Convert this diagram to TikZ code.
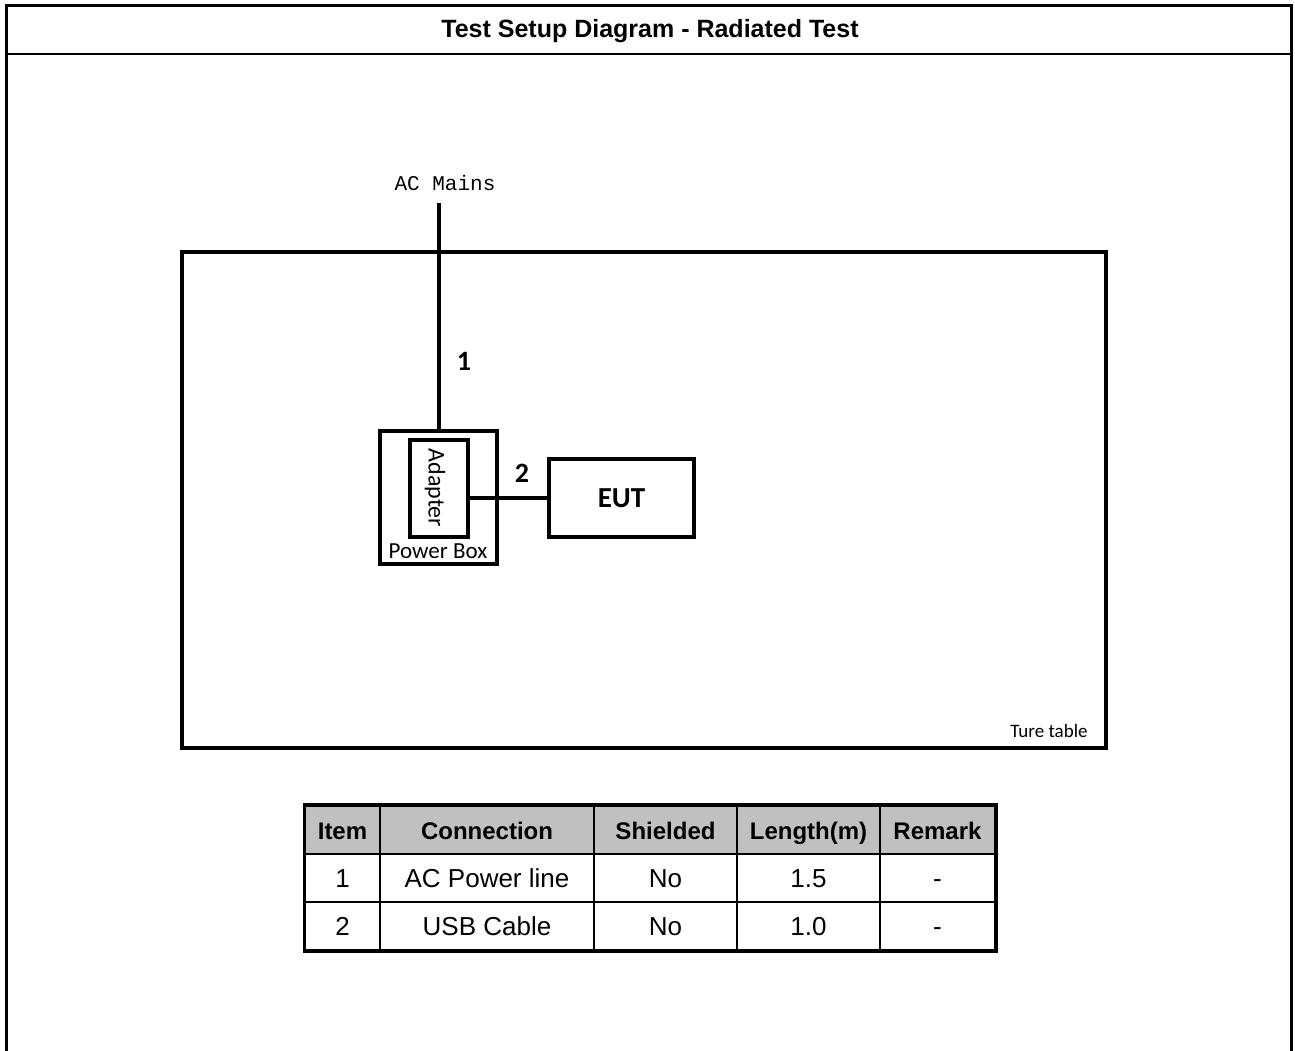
\documentclass[tikz,border=0pt]{standalone}
\usepackage{fontspec}
\setmainfont{Liberation Sans}
\newfontfamily\carfont{Carlito}
\newfontfamily\acmono{Liberation Mono}
\usetikzlibrary{positioning}
\definecolor{HdrGray}{HTML}{C0C0C0}
\tikzset{frame/.style={line width=1.5pt},unit/.style={draw,line width=2pt,inner sep=0pt},cable/.style={line width=2pt},hdr/.style={draw,line width=1pt,fill=HdrGray,minimum height=24.15pt,inner sep=0pt,text height=1.1em,text depth=.14em,font=\fontsize{12}{14}\selectfont\bfseries},cell/.style={draw,line width=1pt,minimum height=24.15pt,inner sep=0pt,text height=1.1em,text depth=.14em,font=\fontsize{13}{15}\selectfont},tag/.style={font=\carfont\fontsize{14}{16}\selectfont\bfseries}}
\begin{document}
\begin{tikzpicture}[x=0.5pt,y=-0.5pt]
      \useasboundingbox (0,0) rectangle (1295,1050);
      % outer frame, open at the bottom
      \draw[frame](6.5,1052)--(6.5,5.5)--(1291.5,5.5)--(1291.5,1052);
      \draw[line width=1pt](6.5,53.5)--(1291.5,53.5);
      \node[font=\fontsize{12.5}{14}\selectfont\bfseries](title) at (650,31){Test Setup Diagram - Radiated Test};
      % table top and units
      \node[unit,minimum width=462pt,minimum height=248pt](tbl) at (644,500){};
      \node[font=\carfont\fontsize{9.5}{11}\selectfont](ture) at (1049,731){Ture table};
      \node[unit,minimum width=58.75pt,minimum height=66.5pt](pbox) at (438.25,497.5){};
      \node[unit,minimum width=29pt,minimum height=48.5pt](adp) at (439,488.5){};
      \node[font=\carfont\fontsize{12}{14}\selectfont,rotate=-90](adptxt) at (435,488){Adapter};
      \node[font=\carfont\fontsize{11.5}{13}\selectfont](pboxtxt) at (438,551){Power Box};
      \node[unit,minimum width=72.5pt,minimum height=39pt,font=\carfont\fontsize{14.5}{16}\selectfont\bfseries](eut) at (621.5,498){EUT};
      \node[font=\acmono\fontsize{10.5}{12}\selectfont](acm) at (445,183){AC Mains};
      \coordinate(acin) at (439,203);
      \draw[cable](acin)--(acin |- pbox.north);
      \draw[cable](eut.west)--(eut.west -| adp.east);
      \node[tag](c1) at (464,361){1};
      \node[tag](c2) at (522,473){2};
      % cable list
      \node[hdr,minimum width=37.5pt](h1) at (342.5,829.7){Item};
      \node[hdr,minimum width=107pt](h2) at (487,829.7){Connection};
      \node[hdr,minimum width=71.5pt](h3) at (665.5,829.7){Shielded};
      \node[hdr,minimum width=71.5pt](h4) at (808.5,829.7){Length(m)};
      \node[hdr,minimum width=57.5pt](h5) at (937.5,829.7){Remark};
      \node[cell,minimum width=37.5pt](r11) at (342.5,878){1};
      \node[cell,minimum width=107pt](r12) at (487,878){AC Power line};
      \node[cell,minimum width=71.5pt](r13) at (665.5,878){No};
      \node[cell,minimum width=71.5pt](r14) at (808.5,878){1.5};
      \node[cell,minimum width=57.5pt](r15) at (937.5,878){-};
      \node[cell,minimum width=37.5pt](r21) at (342.5,926.3){2};
      \node[cell,minimum width=107pt](r22) at (487,926.3){USB Cable};
      \node[cell,minimum width=71.5pt](r23) at (665.5,926.3){No};
      \node[cell,minimum width=71.5pt](r24) at (808.5,926.3){1.0};
      \node[cell,minimum width=57.5pt](r25) at (937.5,926.3){-};
      \draw[line width=1.5pt](h1.north west) rectangle (r25.south east);
    \end{tikzpicture}
\end{document}
